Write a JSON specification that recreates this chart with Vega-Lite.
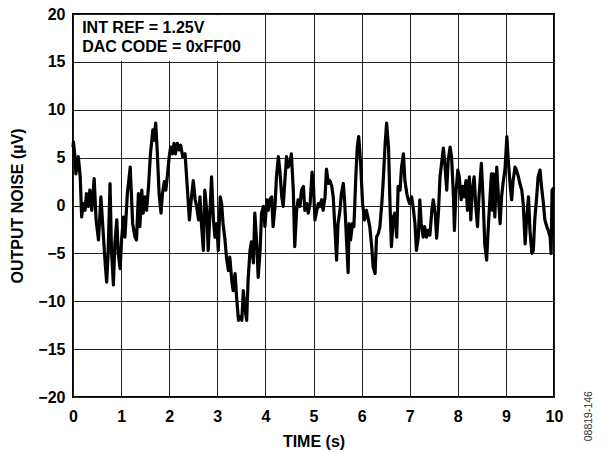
{
  "$schema": "https://vega.github.io/schema/vega-lite/v6.json",
  "width": 481,
  "height": 383,
  "autosize": {"type": "none"},
  "padding": {"left": 73, "top": 14, "right": 51, "bottom": 56},
  "background": "white",
  "config": {
    "view": {"stroke": "black", "strokeWidth": 2},
    "font": "Liberation Sans"
  },
  "layer": [
    {
      "data": {"values": [{}]},
      "mark": {"type": "rect", "fill": "white", "stroke": null},
      "encoding": {
        "x": {"datum": 0.03, "type": "quantitative", "scale": {"domain": [0, 10], "nice": false}},
        "x2": {"datum": 3.9},
        "y": {"datum": 15.12, "type": "quantitative", "scale": {"domain": [-20, 20], "nice": false}},
        "y2": {"datum": 19.88}
      }
    },
    {
      "data": {"values": [
        {"t":0.0,"v":6.2},{"t":0.01,"v":6.65},{"t":0.04,"v":5.1},{"t":0.06,"v":3.3},{"t":0.11,"v":5.1},{"t":0.15,"v":3.0},{"t":0.18,"v":-1.2},{"t":0.21,"v":0.2},{"t":0.25,"v":-0.5},{"t":0.28,"v":1.25},{"t":0.32,"v":-0.1},{"t":0.35,"v":1.6},{"t":0.39,"v":-0.5},{"t":0.44,"v":2.8},{"t":0.48,"v":-1.5},{"t":0.53,"v":-3.6},{"t":0.58,"v":0.9},{"t":0.62,"v":-2.2},{"t":0.67,"v":-6.1},{"t":0.70,"v":-8.0},{"t":0.73,"v":-5.0},{"t":0.77,"v":2.3},{"t":0.80,"v":-4.7},{"t":0.84,"v":-8.3},{"t":0.87,"v":-4.0},{"t":0.91,"v":-1.5},{"t":0.94,"v":-5.0},{"t":0.98,"v":-6.6},{"t":1.01,"v":-3.6},{"t":1.05,"v":-1.2},{"t":1.08,"v":-3.3},{"t":1.13,"v":1.25},{"t":1.19,"v":4.0},
        {"t":1.24,"v":-1.9},{"t":1.29,"v":-3.3},{"t":1.32,"v":-3.6},{"t":1.36,"v":1.25},{"t":1.39,"v":-2.2},{"t":1.43,"v":1.6},{"t":1.46,"v":-0.8},{"t":1.50,"v":0.9},{"t":1.53,"v":-0.5},{"t":1.57,"v":2.0},{"t":1.61,"v":5.4},{"t":1.66,"v":7.9},{"t":1.68,"v":6.8},{"t":1.72,"v":8.6},{"t":1.75,"v":5.8},{"t":1.79,"v":1.25},{"t":1.83,"v":-0.8},{"t":1.86,"v":1.25},{"t":1.90,"v":2.5},{"t":1.93,"v":1.6},{"t":1.96,"v":3.0},{"t":2.00,"v":5.1},{"t":2.03,"v":6.1},{"t":2.07,"v":5.4},{"t":2.10,"v":6.5},{"t":2.13,"v":5.4},{"t":2.17,"v":6.5},{"t":2.21,"v":5.8},{"t":2.24,"v":6.3},{"t":2.28,"v":5.1},{"t":2.33,"v":5.4},{"t":2.38,"v":1.6},{"t":2.42,"v":-1.5},
        {"t":2.45,"v":0.2},{"t":2.50,"v":2.6},{"t":2.54,"v":0.6},{"t":2.57,"v":-0.1},{"t":2.61,"v":-1.5},{"t":2.64,"v":0.9},{"t":2.67,"v":-1.9},{"t":2.71,"v":-4.7},{"t":2.74,"v":1.6},{"t":2.78,"v":-0.5},{"t":2.81,"v":-4.7},{"t":2.85,"v":-0.5},{"t":2.88,"v":3.0},{"t":2.92,"v":-1.5},{"t":2.95,"v":-3.3},{"t":2.99,"v":-1.9},{"t":3.02,"v":-4.7},{"t":3.06,"v":0.9},{"t":3.09,"v":0.2},{"t":3.12,"v":-1.9},{"t":3.16,"v":-3.6},{"t":3.19,"v":-5.4},{"t":3.23,"v":-6.8},{"t":3.26,"v":-5.4},{"t":3.30,"v":-7.8},{"t":3.33,"v":-8.9},{"t":3.37,"v":-7.1},{"t":3.40,"v":-9.5},{"t":3.44,"v":-12.0},{"t":3.47,"v":-11.6},{"t":3.51,"v":-12.0},{"t":3.54,"v":-8.9},{"t":3.58,"v":-10.9},{"t":3.61,"v":-12.0},{"t":3.64,"v":-7.8},{"t":3.68,"v":-4.7},
        {"t":3.71,"v":-3.8},{"t":3.75,"v":-6.0},{"t":3.78,"v":-0.8},{"t":3.82,"v":-4.0},{"t":3.85,"v":-7.5},{"t":3.89,"v":-4.7},{"t":3.92,"v":-0.8},{"t":3.96,"v":-0.1},{"t":3.99,"v":-2.2},{"t":4.03,"v":0.6},{"t":4.06,"v":-0.5},{"t":4.09,"v":0.6},{"t":4.13,"v":0.9},{"t":4.16,"v":-2.2},{"t":4.20,"v":-0.1},{"t":4.23,"v":3.0},{"t":4.27,"v":5.1},{"t":4.30,"v":3.7},{"t":4.34,"v":0.9},{"t":4.37,"v":-0.1},{"t":4.41,"v":3.0},{"t":4.44,"v":5.1},{"t":4.47,"v":4.0},{"t":4.51,"v":4.4},{"t":4.54,"v":5.4},{"t":4.58,"v":1.6},{"t":4.61,"v":-4.3},{"t":4.65,"v":-0.5},{"t":4.68,"v":0.6},{"t":4.72,"v":-0.1},{"t":4.75,"v":1.6},{"t":4.79,"v":2.0},{"t":4.82,"v":-0.5},{"t":4.86,"v":0.2},{"t":4.89,"v":-0.8},{"t":4.93,"v":0.2},{"t":4.97,"v":3.5},{"t":5.00,"v":2.0},
        {"t":5.03,"v":-1.5},{"t":5.07,"v":-0.5},{"t":5.10,"v":0.2},{"t":5.13,"v":-0.1},{"t":5.17,"v":0.6},{"t":5.20,"v":-0.5},{"t":5.24,"v":0.9},{"t":5.27,"v":3.8},{"t":5.31,"v":2.3},{"t":5.34,"v":2.6},{"t":5.38,"v":2.0},{"t":5.41,"v":0.9},{"t":5.44,"v":-1.9},{"t":5.48,"v":-5.7},{"t":5.51,"v":-1.9},{"t":5.55,"v":-0.5},{"t":5.58,"v":1.25},{"t":5.62,"v":2.3},{"t":5.65,"v":0.2},{"t":5.69,"v":-4.0},{"t":5.72,"v":-7.0},{"t":5.74,"v":-1.9},{"t":5.77,"v":-3.6},{"t":5.81,"v":-1.9},{"t":5.84,"v":-2.2},{"t":5.88,"v":3.0},{"t":5.91,"v":6.1},{"t":5.94,"v":7.2},{"t":5.98,"v":4.4},{"t":6.02,"v":0.2},{"t":6.06,"v":-1.5},{"t":6.10,"v":-0.5},{"t":6.13,"v":-1.2},{"t":6.17,"v":-2.2},
        {"t":6.21,"v":-4.3},{"t":6.24,"v":-6.4},{"t":6.28,"v":-7.1},{"t":6.31,"v":-3.3},{"t":6.35,"v":-2.9},{"t":6.38,"v":-2.2},{"t":6.42,"v":0.2},{"t":6.45,"v":2.6},{"t":6.49,"v":6.5},{"t":6.52,"v":8.6},{"t":6.56,"v":6.1},{"t":6.59,"v":0.2},{"t":6.62,"v":-4.3},{"t":6.66,"v":-1.2},{"t":6.69,"v":-0.8},{"t":6.73,"v":-3.3},{"t":6.76,"v":2.0},{"t":6.80,"v":1.6},{"t":6.83,"v":4.0},{"t":6.87,"v":5.4},{"t":6.90,"v":2.6},{"t":6.94,"v":1.25},{"t":6.97,"v":0.6},{"t":7.00,"v":0.2},{"t":7.04,"v":0.9},{"t":7.07,"v":-0.1},{"t":7.11,"v":-1.9},{"t":7.14,"v":-4.7},{"t":7.18,"v":-3.3},{"t":7.21,"v":0.6},{"t":7.24,"v":-1.9},{"t":7.28,"v":-3.3},{"t":7.31,"v":-2.2},{"t":7.35,"v":-3.3},{"t":7.38,"v":-2.6},{"t":7.42,"v":-3.1},
        {"t":7.46,"v":-0.5},{"t":7.49,"v":0.6},{"t":7.53,"v":-0.8},{"t":7.56,"v":-3.4},{"t":7.60,"v":-0.5},{"t":7.63,"v":3.0},{"t":7.67,"v":4.7},{"t":7.70,"v":6.0},{"t":7.73,"v":4.4},{"t":7.77,"v":1.6},{"t":7.80,"v":4.7},{"t":7.84,"v":6.1},{"t":7.87,"v":5.1},{"t":7.91,"v":0.9},{"t":7.93,"v":-2.6},{"t":7.96,"v":1.25},{"t":8.00,"v":3.7},{"t":8.03,"v":3.0},{"t":8.07,"v":0.6},{"t":8.10,"v":2.0},{"t":8.13,"v":0.9},{"t":8.17,"v":2.6},{"t":8.20,"v":-0.5},{"t":8.24,"v":3.0},{"t":8.27,"v":-1.5},{"t":8.30,"v":1.6},{"t":8.34,"v":3.0},{"t":8.37,"v":0.2},{"t":8.41,"v":-2.2},{"t":8.44,"v":0.9},{"t":8.49,"v":4.4},{"t":8.53,"v":0.2},{"t":8.56,"v":-4.0},{"t":8.60,"v":-5.7},{"t":8.63,"v":-2.6},{"t":8.67,"v":0.9},
        {"t":8.70,"v":3.3},{"t":8.72,"v":-0.5},{"t":8.74,"v":3.3},{"t":8.77,"v":-1.2},{"t":8.81,"v":4.0},{"t":8.84,"v":1.25},{"t":8.88,"v":-1.9},{"t":8.91,"v":0.9},{"t":8.94,"v":2.3},{"t":8.98,"v":3.7},{"t":9.02,"v":7.2},{"t":9.05,"v":4.7},{"t":9.09,"v":2.0},{"t":9.12,"v":0.6},{"t":9.15,"v":2.6},{"t":9.19,"v":4.0},{"t":9.22,"v":3.7},{"t":9.26,"v":3.0},{"t":9.29,"v":2.3},{"t":9.33,"v":1.6},{"t":9.36,"v":0.2},{"t":9.40,"v":-4.0},{"t":9.43,"v":-1.5},{"t":9.47,"v":0.9},{"t":9.50,"v":-2.6},{"t":9.54,"v":-5.0},{"t":9.57,"v":-4.7},{"t":9.60,"v":-1.5},{"t":9.64,"v":0.9},{"t":9.67,"v":3.0},{"t":9.71,"v":3.7},{"t":9.74,"v":2.0},{"t":9.78,"v":0.2},{"t":9.81,"v":-1.5},{"t":9.85,"v":-2.2},{"t":9.88,"v":-2.6},{"t":9.92,"v":-3.3},{"t":9.94,"v":-5.0},{"t":9.96,"v":1.6},{"t":9.99,"v":1.8}
      ]},
      "mark": {"type": "line", "color": "black", "strokeWidth": 3.2, "strokeJoin": "round", "strokeCap": "round"},
      "encoding": {
        "x": {
          "field": "t", "type": "quantitative",
          "scale": {"domain": [0, 10], "nice": false},
          "axis": {
            "title": "TIME (s)",
            "values": [0, 1, 2, 3, 4, 5, 6, 7, 8, 9, 10],
            "grid": true, "gridColor": "#222", "gridWidth": 1, "gridOpacity": 1,
            "domain": false, "ticks": false, "tickSize": 0,
            "labelFlush": false,
            "labelFont": "Liberation Sans", "labelFontSize": 16, "labelFontWeight": "bold", "labelColor": "black", "labelPadding": 11,
            "titleFont": "Liberation Sans", "titleFontSize": 16, "titleFontWeight": "bold", "titleColor": "black", "titlePadding": 9
          }
        },
        "y": {
          "field": "v", "type": "quantitative",
          "scale": {"domain": [-20, 20], "nice": false},
          "axis": {
            "title": "OUTPUT NOISE (µV)",
            "values": [-20, -15, -10, -5, 0, 5, 10, 15, 20],
            "grid": true, "gridColor": "#222", "gridWidth": 1, "gridOpacity": 1,
            "domain": false, "ticks": false, "tickSize": 0,
            "labelFlush": false,
            "labelFont": "Liberation Sans", "labelFontSize": 16, "labelFontWeight": "bold", "labelColor": "black", "labelPadding": 8,
            "titleFont": "Liberation Sans", "titleFontSize": 16, "titleFontWeight": "bold", "titleColor": "black", "titlePadding": 12
          }
        }
      }
    },
    {
      "data": {"values": [{}]},
      "mark": {"type": "text", "text": "INT REF = 1.25V", "align": "left", "baseline": "alphabetic", "font": "Liberation Sans", "fontSize": 16, "fontWeight": "bold", "color": "black"},
      "encoding": {
        "x": {"datum": 0.19, "type": "quantitative"},
        "y": {"datum": 18.0, "type": "quantitative"}
      }
    },
    {
      "data": {"values": [{}]},
      "mark": {"type": "text", "text": "DAC CODE = 0xFF00", "align": "left", "baseline": "alphabetic", "font": "Liberation Sans", "fontSize": 16, "fontWeight": "bold", "color": "black"},
      "encoding": {
        "x": {"datum": 0.19, "type": "quantitative"},
        "y": {"datum": 16.03, "type": "quantitative"}
      }
    },
    {
      "data": {"values": [{}]},
      "mark": {"type": "text", "text": "08819-146", "align": "center", "baseline": "middle", "angle": 270, "font": "Liberation Sans", "fontSize": 10.5, "color": "#333"},
      "encoding": {
        "x": {"datum": 10.72, "type": "quantitative"},
        "y": {"datum": -22.0, "type": "quantitative"}
      }
    }
  ]
}
